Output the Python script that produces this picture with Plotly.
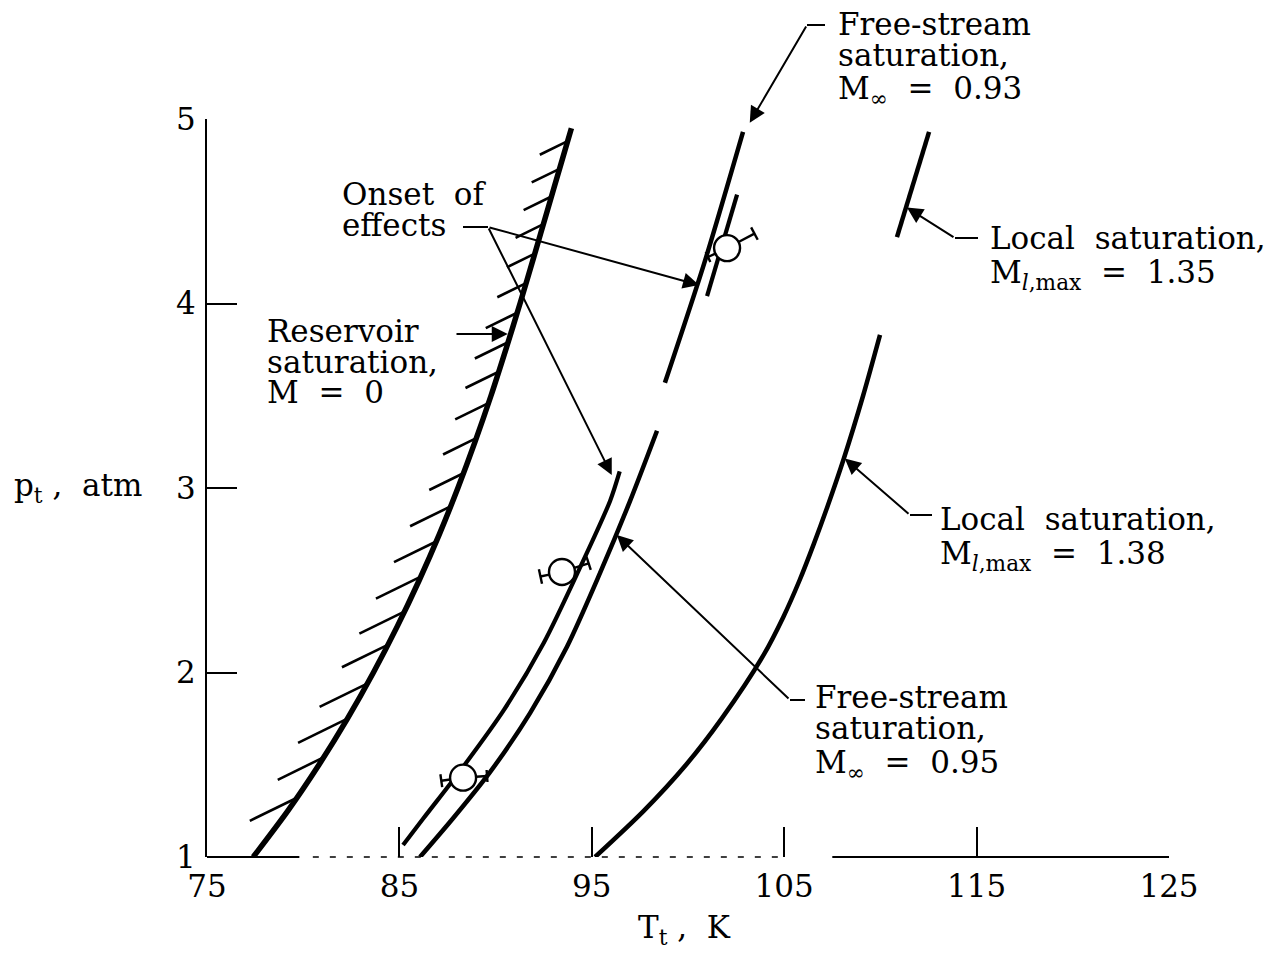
import numpy as np
import plotly.graph_objects as go

# ---------------- data: total temperature T_t (K) vs total pressure p_t (atm) ----------------
# Reservoir saturation, M = 0
res_T = [77.4, 79.2, 80.82, 82.3, 83.65, 84.89, 86.03, 87.08, 88.04, 88.93, 89.76, 90.53, 91.27, 91.98, 92.68, 93.38, 93.94]
res_p = [1.0, 1.25, 1.5, 1.75, 2.0, 2.25, 2.5, 2.75, 3.0, 3.25, 3.5, 3.75, 4.0, 4.25, 4.5, 4.75, 4.95]

# Free-stream saturation, M_inf = 0.95
fs95_T = [86.07, 87.79, 89.71, 91.79, 93.71, 95.43, 96.99, 98.39]
fs95_p = [1.0, 1.21, 1.46, 1.78, 2.14, 2.54, 2.93, 3.31]

# Onset of effects, M_inf = 0.95
on95_T = [85.19, 86.25, 88.25, 90.45, 92.5, 94.35, 95.95, 96.45]
on95_p = [1.065, 1.21, 1.48, 1.80, 2.16, 2.56, 2.93, 3.09]

# Free-stream saturation, M_inf = 0.93
fs93_T = [98.80, 100.85, 102.86]
fs93_p = [3.57, 4.22, 4.93]

# Onset of effects, M_inf = 0.93
on93_T = [100.99, 102.55]
on93_p = [4.04, 4.59]

# Local saturation, M_l,max = 1.38
loc138_T = [95.17, 97.7, 99.9, 101.75, 103.9, 104.95, 105.8, 106.55, 107.25, 108.1, 109.1, 109.98]
loc138_p = [1.0, 1.25, 1.5, 1.75, 2.09, 2.3, 2.5, 2.7, 2.9, 3.16, 3.5, 3.83]

# Local saturation, M_l,max = 1.35
loc135_T = [110.86, 112.53]
loc135_p = [4.36, 4.93]

# Test points (onset of effects)
sym_T = [88.31, 93.45, 102.03]
sym_p = [1.43, 2.545, 4.30]

# Hatch marks on the reservoir curve (pressure at the foot of each mark, length in px)
hatch_p = [1.32, 1.54, 1.75, 1.94, 2.15, 2.33, 2.52, 2.71, 2.90, 3.08, 3.27, 3.46, 3.63,
           3.79, 3.95, 4.11, 4.27, 4.43, 4.58, 4.73, 4.88]
hatch_len = [52, 51, 55, 53, 51, 50, 50, 47, 45, 38, 37, 37, 37, 37, 35, 32, 31, 31, 31, 31, 31]

x_ticks = [75, 85, 95, 105, 115, 125]
y_ticks = [1, 2, 3, 4, 5]

# ---------------- geometry helpers ----------------
X0, X1, Y0, Y1 = 75, 125, 1, 5
W, H = 1272, 955
ML, MR, MT, MB = 207, 103, 119, 98
PW, PH = W - ML - MR, H - MT - MB
KX = (X1 - X0) / PW          # K per pixel
KY = (Y1 - Y0) / PH          # atm per pixel


def xp(T):
    return (T - X0) / (X1 - X0)


def yp(p):
    return (p - Y0) / (Y1 - Y0)


def off(T, p, dx, dy):
    """shift a data point by dx (right) / dy (up) screen pixels"""
    return T + dx * KX, p + dy * KY


fig = go.Figure()

INK = "black"


def curve(T, p, width):
    fig.add_trace(go.Scatter(x=T, y=p, mode="lines",
                             line=dict(color=INK, width=width, shape="spline", smoothing=0.8),
                             hoverinfo="skip"))


curve(res_T, res_p, 5.5)
curve(fs95_T, fs95_p, 4.5)
curve(on95_T, on95_p, 4.2)
curve(fs93_T, fs93_p, 4.5)
curve(on93_T, on93_p, 4.2)
curve(loc138_T, loc138_p, 4.5)
curve(loc135_T, loc135_p, 4.5)

# hatching on the reservoir curve
hx, hy = [], []
ux, uy = -0.898, -0.44
for p0, L in zip(hatch_p, hatch_len):
    T0 = float(np.interp(p0, res_p, res_T))
    T1, p1 = off(T0, p0, ux * L, uy * L)
    hx += [T0, T1, None]
    hy += [p0, p1, None]
fig.add_trace(go.Scatter(x=hx, y=hy, mode="lines", line=dict(color=INK, width=2.6), hoverinfo="skip"))

# flags on the test-point symbols: (angle deg, stem px, bar px)
flags = [
    [(188, 9, 13), (4, 11, 12)],
    [(192, 9, 15), (18, 15, 14)],
    [(205, 8, 11), (28, 18, 14)],
]
R = 13
fx, fy = [], []
for T0, p0, fl in zip(sym_T, sym_p, flags):
    for ang, stem, bar in fl:
        a = np.radians(ang)
        cx, cy = np.cos(a), np.sin(a)
        s0 = off(T0, p0, R * cx, R * cy)
        s1 = off(T0, p0, (R + stem) * cx, (R + stem) * cy)
        b0 = off(T0, p0, (R + stem) * cx - cy * bar / 2, (R + stem) * cy + cx * bar / 2)
        b1 = off(T0, p0, (R + stem) * cx + cy * bar / 2, (R + stem) * cy - cx * bar / 2)
        fx += [s0[0], s1[0], None, b0[0], b1[0], None]
        fy += [s0[1], s1[1], None, b0[1], b1[1], None]
fig.add_trace(go.Scatter(x=fx, y=fy, mode="lines", line=dict(color=INK, width=2.4), hoverinfo="skip"))

fig.add_trace(go.Scatter(x=sym_T, y=sym_p, mode="markers",
                         marker=dict(symbol="circle", size=26, color="white",
                                     line=dict(color=INK, width=2.4)),
                         hoverinfo="skip", cliponaxis=False))

# ---------------- bottom axis line (broken in the middle) ----------------
shapes = []
for a, b, dash, w in [(75, 79.8, "solid", 2), (80.5, 104.7, "6px,11px", 1.6), (107.5, 125, "solid", 2)]:
    shapes.append(dict(type="line", xref="x", yref="paper", x0=a, x1=b, y0=0, y1=0,
                       line=dict(color=INK, width=w, dash=dash)))

# ---------------- labels and leaders ----------------
FONT = "DejaVu Serif"
FS = 31
ann = []


def text(s, T, p, size=FS, anchor="left"):
    if "<sub>" in s:
        p -= 6 * KY
    ann.append(dict(text=s, xref="paper", yref="paper", x=xp(T), y=yp(p), xanchor=anchor,
                    yanchor="middle", showarrow=False, font=dict(family=FONT, size=size, color=INK)))


def block(lines, T, p_first, step=30.5):
    for i, s in enumerate(lines):
        text(s, T, p_first - i * step * KY)


def arrow(tip, tail):
    ann.append(dict(text="", x=tip[0], y=tip[1], ax=tail[0], ay=tail[1], xref="x", yref="y",
                    axref="x", ayref="y", showarrow=True, arrowhead=2, arrowsize=1.6,
                    arrowwidth=2, arrowcolor=INK, standoff=0))


def stub(a, b):
    shapes.append(dict(type="line", xref="paper", yref="paper", x0=xp(a[0]), y0=yp(a[1]),
                       x1=xp(b[0]), y1=yp(b[1]), line=dict(color=INK, width=2)))


def px2data(x, y):
    return X0 + (x - ML) * KX, Y0 + (H - MB - y) * KY


# Onset of effects
block(["Onset  of", "effects"], *px2data(340, 194))
el = px2data(488, 227)
stub(px2data(463, 227), el)
tA = (float(np.interp(4.10, fs93_p, fs93_T)) + 0.1, 4.10)
arrow(tA, el)
tB = (float(np.interp(3.07, on95_p, on95_T)) - 0.35, 3.07)
arrow(tB, el)

# Reservoir saturation
block(["Reservoir", "saturation,", "M  =  0"], *px2data(265, 331))
pr = 3.835
arrow((float(np.interp(pr, res_p, res_T)) - 0.15, pr), (px2data(455, 0)[0], pr))

# Free-stream saturation, 0.93
block(["Free-stream", "saturation,", "M<sub>∞</sub>  =  0.93"], *px2data(836, 24))
el = px2data(807, 25)
stub(el, px2data(825, 25))
arrow((fs93_T[-1] + 0.35, fs93_p[-1] + 0.05), el)

# Local saturation, 1.35
block(["Local  saturation,", "M<sub><i>l</i>,max</sub>  =  1.35"], *px2data(988, 238))
el = px2data(955, 238)
stub(el, px2data(978, 238))
pl = 4.52
arrow((float(np.interp(pl, loc135_p, loc135_T)) + 0.05, pl), el)

# Local saturation, 1.38
block(["Local  saturation,", "M<sub><i>l</i>,max</sub>  =  1.38"], *px2data(938, 519))
el = px2data(910, 515)
stub(el, px2data(932, 515))
pl = 3.16
arrow((float(np.interp(pl, loc138_p, loc138_T)) + 0.05, pl), el)

# Free-stream saturation, 0.95
block(["Free-stream", "saturation,", "M<sub>∞</sub>  =  0.95"], *px2data(813, 697))
el = px2data(790, 700)
stub(el, px2data(805, 700))
pf = 2.745
arrow((float(np.interp(pf, fs95_p, fs95_T)) + 0.05, pf), el)

# axis titles
text("p<sub>t</sub> ,  atm", *px2data(12, 481))
text("T<sub>t</sub> ,  K", *px2data(636, 923))

fig.update_layout(
    width=W, height=H, margin=dict(l=ML, r=MR, t=MT, b=MB),
    plot_bgcolor="white", paper_bgcolor="white", showlegend=False,
    font=dict(family=FONT, color=INK), shapes=shapes, annotations=ann,
)
fig.update_xaxes(range=[X0, X1], tickvals=x_ticks, ticks="inside", ticklen=30, tickwidth=2,
                 tickcolor=INK, showgrid=False, zeroline=False, showline=False,
                 tickfont=dict(family=FONT, size=FS, color=INK), ticklabelstandoff=8)
fig.update_yaxes(range=[Y0, Y1], tickvals=y_ticks, ticks="inside", ticklen=30, tickwidth=2,
                 tickcolor=INK, showgrid=False, zeroline=False, showline=True, linewidth=2,
                 linecolor=INK, tickfont=dict(family=FONT, size=FS, color=INK), ticklabelstandoff=3)

fig.write_html("out.html")
